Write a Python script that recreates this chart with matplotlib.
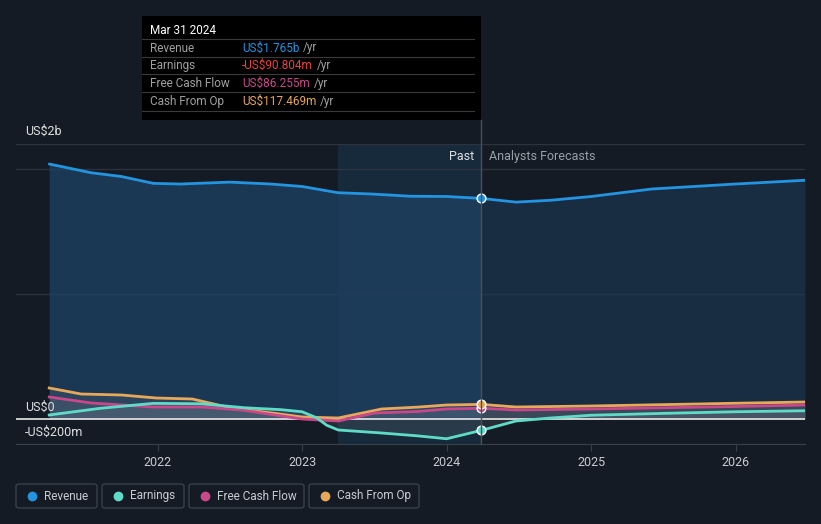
import numpy as np
import matplotlib.pyplot as plt
from matplotlib.patches import FancyBboxPatch, Rectangle

plt.rcParams['font.family'] = ['Roboto', 'DejaVu Sans']

# Data (values in US$ millions, x in decimal years)
rev_x = [2021.25, 2021.54, 2021.75, 2021.97, 2022.16, 2022.5, 2022.78, 2023.0, 2023.25,
         2023.48, 2023.75, 2024.0, 2024.24, 2024.48, 2024.72, 2025.0, 2025.42, 2026.0, 2026.48]
rev_y = [2040, 1970, 1940, 1885, 1880, 1895, 1880, 1860, 1810,
         1800, 1782, 1780, 1765, 1735, 1750, 1780, 1840, 1880, 1910]

earn_x = [2021.25, 2021.6, 2021.97, 2022.3, 2022.6, 2022.85, 2023.0, 2023.1, 2023.17, 2023.25,
          2023.55, 2023.8, 2024.0, 2024.24, 2024.48, 2024.72, 2025.0, 2025.5, 2026.0, 2026.48]
earn_y = [32, 85, 125, 122, 90, 75, 58, 10, -50, -88,
          -112, -135, -158, -91, -16, 8, 30, 45, 58, 66]

fcf_x = [2021.25, 2021.54, 2021.97, 2022.3, 2022.58, 2023.0, 2023.25, 2023.5, 2023.8,
         2024.0, 2024.24, 2024.48, 2025.0, 2025.5, 2026.0, 2026.48]
fcf_y = [176, 128, 96, 96, 72, 0, -16, 48, 60,
         80, 86, 72, 80, 90, 100, 112]

cfo_x = [2021.25, 2021.47, 2021.75, 2021.99, 2022.24, 2022.51, 2022.79, 2023.0, 2023.25,
         2023.55, 2023.8, 2024.0, 2024.24, 2024.48, 2025.0, 2025.5, 2026.0, 2026.48]
cfo_y = [248, 200, 192, 168, 160, 88, 48, 16, 8,
         80, 95, 112, 117, 96, 104, 115, 126, 136]

years = [2022, 2023, 2024, 2025, 2026]
marker_x = 2024.24
past_start = 2023.25

bg = '#151b24'
c_rev = '#2394df'
c_earn = '#5fdcc8'
c_fcf = '#c9488a'
c_cfo = '#e8a85a'

fig = plt.figure(figsize=(8.21, 5.24), dpi=100)
fig.patch.set_facecolor(bg)
W, H = 821, 524
ax = fig.add_axes([16 / W, (H - 444) / H, (805 - 16) / W, 300 / H])
ax.set_facecolor(bg)
ax.set_xlim(2021.02, 2026.48)
ax.set_ylim(-200, 2200)

# past highlighted band
ax.axvspan(past_start, marker_x, color='#1b4262', alpha=0.4, lw=0, zorder=0)

for gy in [2200, 2000, 1000]:
    ax.axhline(gy, color='#2c333d', lw=1, zorder=1)

# revenue area: brighter in the past, dimmer in the forecast
rx = np.array(rev_x)
ry = np.array(rev_y)
past = rx <= marker_x
ax.fill_between(rx[past], ry[past], 0, color='#1d4264', alpha=0.75, lw=0, zorder=2)
ax.fill_between(rx[~past | (rx == marker_x)], ry[~past | (rx == marker_x)], 0,
                color='#1b3550', alpha=0.7, lw=0, zorder=2)
for xs, ys, c in [(cfo_x, cfo_y, c_cfo), (fcf_x, fcf_y, c_fcf), (earn_x, earn_y, c_earn)]:
    ax.fill_between(xs, ys, 0, color='#8a8f99', alpha=0.16, lw=0, zorder=2)

ax.plot(rev_x, rev_y, color=c_rev, lw=2.0, zorder=4, solid_capstyle='round')
ax.plot(cfo_x, cfo_y, color=c_cfo, lw=2.0, zorder=4)
ax.plot(fcf_x, fcf_y, color=c_fcf, lw=2.0, zorder=4)
ax.plot(earn_x, earn_y, color=c_earn, lw=2.0, zorder=4)
ax.axhline(0, color='#e8e8e8', lw=1.2, zorder=3)

for xs, ys, c in [(rev_x, rev_y, c_rev), (earn_x, earn_y, c_earn),
                  (fcf_x, fcf_y, c_fcf), (cfo_x, cfo_y, c_cfo)]:
    v = np.interp(marker_x, xs, ys)
    ax.scatter([marker_x], [v], s=40, color=c, edgecolor='white', lw=1, zorder=6)

for s in ax.spines.values():
    s.set_visible(False)
ax.spines['bottom'].set_visible(True)
ax.spines['bottom'].set_color('#3a404a')
ax.set_yticks([])
ax.set_xticks(years)
ax.set_xticklabels([str(y) for y in years], color='#c8ccd2', fontsize=9)
ax.tick_params(axis='x', colors='#3a404a', length=5, labelcolor='#c8ccd2', pad=4)

# y labels
ax.text(2021.08, 2300, 'US$2b', color='#e0e0e0', fontsize=9, va='center', clip_on=False)
ax.text(2021.08, 95, 'US$0', color='#e0e0e0', fontsize=9, va='center')
ax.text(2021.08, -105, '-US$200m', color='#e0e0e0', fontsize=9, va='center')

ax.text(marker_x - 0.05, 2100, 'Past', color='#e0e0e0', fontsize=9, ha='right', va='center')
ax.text(marker_x + 0.05, 2100, 'Analysts Forecasts', color='#9aa0a8', fontsize=9, ha='left', va='center')

# vertical line up to tooltip
fig.add_artist(plt.Line2D([481 / W, 481 / W], [(H - 444) / H, (H - 120) / H],
                          color='#4a505a', lw=1))

# tooltip
fig.add_artist(Rectangle((142 / W, (H - 120) / H), 339 / W, 104 / H,
                         facecolor='black', edgecolor='none'))
fig.text(150 / W, (H - 31) / H, 'Mar 31 2024', color='white', fontsize=8.5, va='center')
rows = [('Revenue', 'US$1.765b', c_rev), ('Earnings', '-US$90.804m', '#e8423f'),
        ('Free Cash Flow', 'US$86.255m', c_fcf), ('Cash From Op', 'US$117.469m', c_cfo)]
for i, (lab, val, c) in enumerate(rows):
    yy = 48 + i * 17.7
    fig.add_artist(plt.Line2D([142 / W, 474 / W], [(H - yy + 9) / H] * 2, color='#3a3a3a', lw=0.8))
    fig.text(150 / W, (H - yy) / H, lab, color='#a0a0a0', fontsize=8.5, va='center')
    t = fig.text(242 / W, (H - yy) / H, val, color=c, fontsize=8.5, va='center')
    fig.canvas.draw()
    bb = t.get_window_extent()
    fig.text(bb.x1 / W + 4 / W, (H - yy) / H, '/yr', color='#a0a0a0', fontsize=8.5, va='center')
fig.add_artist(plt.Line2D([142 / W, 474 / W], [(H - 111) / H] * 2, color='#3a3a3a', lw=0.8))

# legend
legend = [('Revenue', c_rev, 16, 97), ('Earnings', c_earn, 102, 184),
          ('Free Cash Flow', c_fcf, 189, 304), ('Cash From Op', c_cfo, 309, 419)]
for lab, c, x0, x1 in legend:
    fig.add_artist(FancyBboxPatch((x0 / W, (H - 508) / H), (x1 - x0) / W, 24 / H,
                                  boxstyle='round,pad=0,rounding_size=0.004',
                                  facecolor='none', edgecolor='#3a404a', lw=1))
    fig.add_artist(plt.Line2D([(x0 + 16) / W], [(H - 496) / H], marker='o', ms=6,
                              color=c, lw=0))
    fig.text((x0 + 28) / W, (H - 496) / H, lab, color='#c8ccd2', fontsize=8.5, va='center')

fig.savefig('out.png', dpi=100, facecolor=bg)
